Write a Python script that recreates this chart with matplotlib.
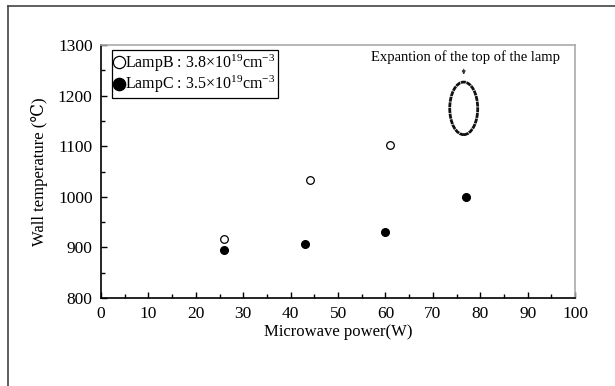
"""Wall temperature vs microwave power for two lamps."""

import matplotlib
matplotlib.use("Agg")
import matplotlib.pyplot as plt
from matplotlib.lines import Line2D
from matplotlib.patches import Ellipse
from matplotlib.ticker import MultipleLocator

# data
lamp_b_power = [26, 44, 61]
lamp_b_temp = [917, 1034, 1102]
lamp_c_power = [26, 43, 60, 77]
lamp_c_temp = [894, 907, 931, 1000]

label_b = r"LampB : 3.8×10$^{19}$cm$^{-3}$"
label_c = r"LampC : 3.5×10$^{19}$cm$^{-3}$"
note = "Expantion of the top of the lamp"

plt.rcParams["font.family"] = ["Liberation Serif", "DejaVu Serif"]
plt.rcParams["mathtext.fontset"] = "custom"
plt.rcParams["mathtext.rm"] = "Liberation Serif"
plt.rcParams["mathtext.it"] = "Liberation Serif:italic"

fig = plt.figure(figsize=(6.15, 3.86), dpi=100)
ax = fig.add_axes([0.1642, 0.228, 0.771, 0.655])

ax.plot(lamp_b_power, lamp_b_temp, "o", ms=5.5, mfc="white", mec="black",
        mew=0.9, ls="none", label=label_b)
ax.plot(lamp_c_power, lamp_c_temp, "o", ms=5.5, mfc="black", mec="black",
        ls="none", label=label_c)

# the bulging top of the lamp
ax.add_patch(Ellipse((76.5, 1175), 5.9, 104, fill=False, ec="#111111",
                     lw=2.0, ls=(0, (1.8, 0.25))))
ax.annotate("", xy=(76.5, 1236), xytext=(76.5, 1258),
            arrowprops=dict(arrowstyle="-|>", color="#333333", lw=0.8,
                            mutation_scale=5))
ax.text(76.8, 1277, note, ha="center", va="center", fontsize=10.5)

ax.set_xlim(0, 100)
ax.set_ylim(800, 1300)
ax.xaxis.set_major_locator(MultipleLocator(10))
ax.xaxis.set_minor_locator(MultipleLocator(5))
ax.yaxis.set_major_locator(MultipleLocator(100))
ax.yaxis.set_minor_locator(MultipleLocator(50))
ax.tick_params(which="both", direction="in", top=False, right=False,
               width=1, labelsize=12.5)
ax.tick_params(which="major", length=4)
ax.tick_params(which="minor", length=3)
ax.tick_params(axis="x", pad=6)
ax.tick_params(axis="y", pad=6)

for side in ("left", "bottom"):
    ax.spines[side].set_color("black")
    ax.spines[side].set_linewidth(1.2)
for side in ("top", "right"):
    ax.spines[side].set_color("#aaaaaa")
    ax.spines[side].set_linewidth(1.2)

ax.set_xlabel("Microwave power(W)", fontsize=12, labelpad=1)
ax.set_ylabel("Wall temperature (℃)", fontsize=12, labelpad=7)

leg = ax.legend(loc="upper left", bbox_to_anchor=(0.023, 0.98),
                borderaxespad=0, fontsize=11.5, handlelength=0.6,
                handletextpad=0.1, borderpad=0.15, labelspacing=0.0,
                markerscale=1.6, fancybox=False, framealpha=1)
leg.get_frame().set_edgecolor("black")
leg.get_frame().set_linewidth(0.9)

# outer frame, cut off at the right and bottom edges
fig.add_artist(Line2D([8 / 615, 1.0], [1 - 6 / 386, 1 - 6 / 386],
                      color="#444444", lw=1.2))
fig.add_artist(Line2D([8 / 615, 8 / 615], [0.0, 1 - 6 / 386],
                      color="#444444", lw=1.2))

fig.savefig("out.png", dpi=100)
